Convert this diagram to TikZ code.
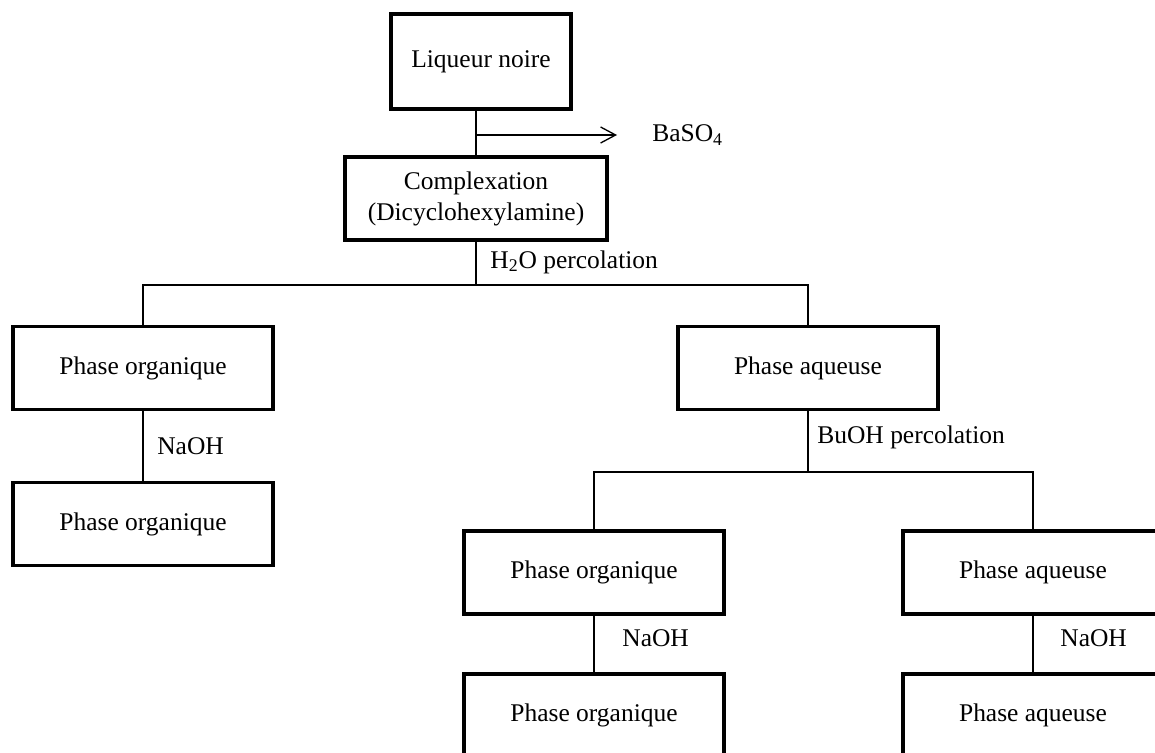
\documentclass[tikz,border=0pt]{standalone}
\usepackage{fontspec}
\setmainfont{Liberation Serif}
\usepackage{tikz}
\usetikzlibrary{arrows.meta,positioning}

\begin{document}
\begin{tikzpicture}[x=0.02cm, y=-0.02cm,
    box/.style={draw, line width=2pt, minimum width=5.2cm, minimum height=1.66cm,
      inner sep=0pt, align=center, font=\fontsize{14.5}{17.6}\selectfont},
    tag/.style={anchor=west, inner sep=0pt, font=\fontsize{14.5}{17.6}\selectfont},
    link/.style={line width=0.75pt}]
      % Page frame (the lowest boxes run off the edge)
      \clip (0,0) rectangle (1155,753);
      % Top of the chain
      \node[box, minimum width=3.6cm, minimum height=1.9cm] (liq) at (481,61.5) {Liqueur noire};
      \node[box, minimum width=5.24cm] (comp) at (476,198.5) {Complexation\\(Dicyclohexylamine)};
      \draw[link] (comp.north) -- (comp.north |- liq.south);
      % Side product
      \coordinate (tap) at (476,135);
      \coordinate (tip) at (617,135);
      \draw[link, -{Straight Barb[length=3mm, width=3.2mm]}] (tap) -- (tip);
      \node[tag] (baso4) at (652,135) {BaSO\textsubscript{4}};
      % First split
      \coordinate (fork1) at (476,285);
      \node[tag] (h2o) at (490,262) {H\textsubscript{2}O percolation};
      \node[box] (orgA) at (143,368) {Phase organique};
      \node[box] (aqA) at (808,368) {Phase aqueuse};
      \draw[link] (comp) -- (fork1);
      \draw[link] (orgA.north) |- (fork1) -| (aqA.north);
      % Left branch
      \node[tag] (naohA) at (157,446) {NaOH};
      \node[box] (orgB) at (143,524) {Phase organique};
      \draw[link] (orgA) -- (orgB);
      % Second split
      \coordinate (fork2) at (808,472);
      \node[tag] (buoh) at (817,437) {BuOH percolation};
      \node[box] (orgC) at (594,572.5) {Phase organique};
      \node[box] (aqC) at (1033,572.5) {Phase aqueuse};
      \draw[link] (aqA) -- (fork2);
      \draw[link] (orgC.north) |- (fork2) -| (aqC.north);
      % Bottom row
      \node[tag] (naohC) at (622,638) {NaOH};
      \node[tag] (naohD) at (1060,638) {NaOH};
      \node[box] (orgD) at (594,715.5) {Phase organique};
      \node[box] (aqD) at (1033,715.5) {Phase aqueuse};
      \draw[link] (orgC) -- (orgD);
      \draw[link] (aqC) -- (aqD);
\end{tikzpicture}
\end{document}
